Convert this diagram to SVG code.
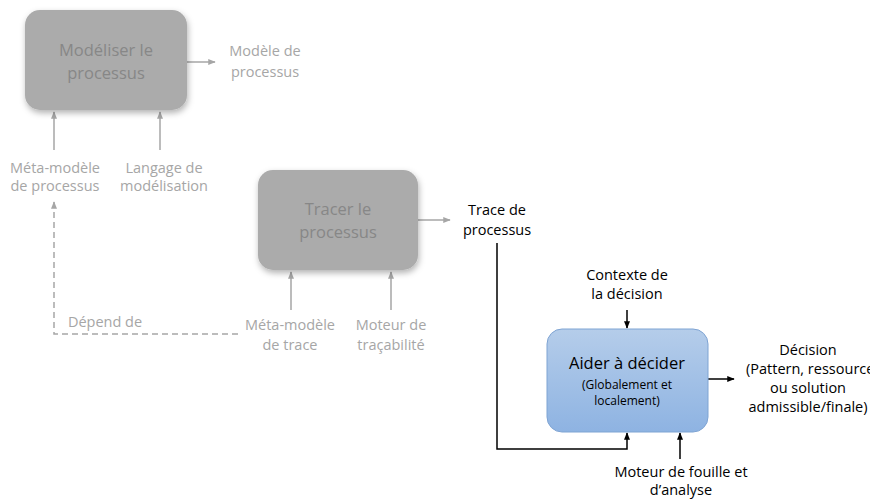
<svg xmlns="http://www.w3.org/2000/svg" width="870" height="499" viewBox="0 0 870 499">
<defs>
<style>
text{font-family:"Open Sans","Liberation Sans",sans-serif;text-anchor:middle}
.g{fill:#a6a6a6;font-size:14.5px}
.b{fill:#000;font-size:14.5px}
.bt{fill:#878787;font-size:16.5px}
.gbox{fill:#ababab}
.gl{stroke:#a6a6a6;stroke-width:1.5;fill:none}
.bl{stroke:#000;stroke-width:1.5;fill:none}
</style>
<filter id="sh" x="-20%" y="-20%" width="140%" height="150%">
<feDropShadow dx="1" dy="3" stdDeviation="3" flood-color="#000" flood-opacity="0.3"/>
</filter>
<linearGradient id="blue" x1="0" y1="0" x2="0" y2="1">
<stop offset="0" stop-color="#b5cdea"/>
<stop offset="1" stop-color="#8eb3e2"/>
</linearGradient>
<marker id="ag" viewBox="0 0 10 10" refX="9" refY="5" markerWidth="5" markerHeight="5" orient="auto"><path d="M0,1 L10,5 L0,9 z" fill="#a6a6a6"/></marker>
<marker id="ab" viewBox="0 0 10 10" refX="9" refY="5" markerWidth="5" markerHeight="5" orient="auto"><path d="M0,1 L10,5 L0,9 z" fill="#000"/></marker>
</defs>
<g id="connectors">
<line class="gl" x1="187" y1="62" x2="215" y2="62" marker-end="url(#ag)"/>
<line class="gl" x1="54" y1="150" x2="54" y2="112" marker-end="url(#ag)"/>
<line class="gl" x1="160" y1="150" x2="160" y2="112" marker-end="url(#ag)"/>
<line class="gl" x1="418" y1="220" x2="450" y2="220" marker-end="url(#ag)"/>
<line class="gl" x1="291" y1="310" x2="291" y2="272" marker-end="url(#ag)"/>
<line class="gl" x1="391" y1="310" x2="391" y2="272" marker-end="url(#ag)"/>
<path class="gl" d="M238,334 H54 V202" stroke-dasharray="6,4" marker-end="url(#ag)"/>
<path class="bl" d="M497,243 V449 H627 V433" marker-end="url(#ab)"/>
<line class="bl" x1="627" y1="310" x2="627" y2="328" marker-end="url(#ab)"/>
<line class="bl" x1="708" y1="379" x2="734" y2="379" marker-end="url(#ab)"/>
<line class="bl" x1="680" y1="459" x2="680" y2="433" marker-end="url(#ab)"/>
</g>
<g id="node-modeliser">
<rect class="gbox" x="25" y="10" width="162" height="100" rx="15" filter="url(#sh)"/>
<text class="bt" x="106" y="56">Modéliser le</text>
<text class="bt" x="106" y="79">processus</text>
</g>
<g id="label-modele"><text class="g" x="265" y="56">Modèle de</text><text class="g" x="265" y="77">processus</text></g>
<g id="label-meta1"><text class="g" x="55" y="173">Méta-modèle</text><text class="g" x="55" y="191">de processus</text></g>
<g id="label-langage"><text class="g" x="164" y="173">Langage de</text><text class="g" x="164" y="191">modélisation</text></g>
<g id="node-tracer">
<rect class="gbox" x="258" y="170" width="160" height="100" rx="15" filter="url(#sh)"/>
<text class="bt" x="338" y="215">Tracer le</text>
<text class="bt" x="338" y="238">processus</text>
</g>
<g id="label-trace"><text class="b" x="497" y="215">Trace de</text><text class="b" x="497" y="235">processus</text></g>
<g id="label-meta2"><text class="g" x="290" y="330">Méta-modèle</text><text class="g" x="290" y="350">de trace</text></g>
<g id="label-moteur"><text class="g" x="391" y="330">Moteur de</text><text class="g" x="391" y="350">traçabilité</text></g>
<g id="label-depend"><text class="g" x="105" y="327">Dépend de</text></g>
<g id="node-aider">
<rect x="547" y="329" width="161" height="103" rx="15" fill="url(#blue)" stroke="#7fa4d3" stroke-width="1"/>
<text x="627" y="369" style="font-size:16.5px;fill:#000">Aider à décider</text>
<text x="627" y="389" style="font-size:12px;fill:#000">(Globalement et</text>
<text x="627" y="405" style="font-size:12px;fill:#000">localement)</text>
</g>
<g id="label-contexte"><text class="b" x="627" y="280">Contexte de</text><text class="b" x="627" y="299">la décision</text></g>
<g id="label-decision">
<text class="b" x="808" y="355">Décision</text>
<text class="b" x="746" y="374" style="text-anchor:start">(Pattern, ressource</text>
<text class="b" x="808" y="393">ou solution</text>
<text class="b" x="808" y="412">admissible/finale)</text>
</g>
<g id="label-fouille"><text class="b" x="681" y="477">Moteur de fouille et</text><text class="b" x="681" y="495">d’analyse</text></g>
</svg>
